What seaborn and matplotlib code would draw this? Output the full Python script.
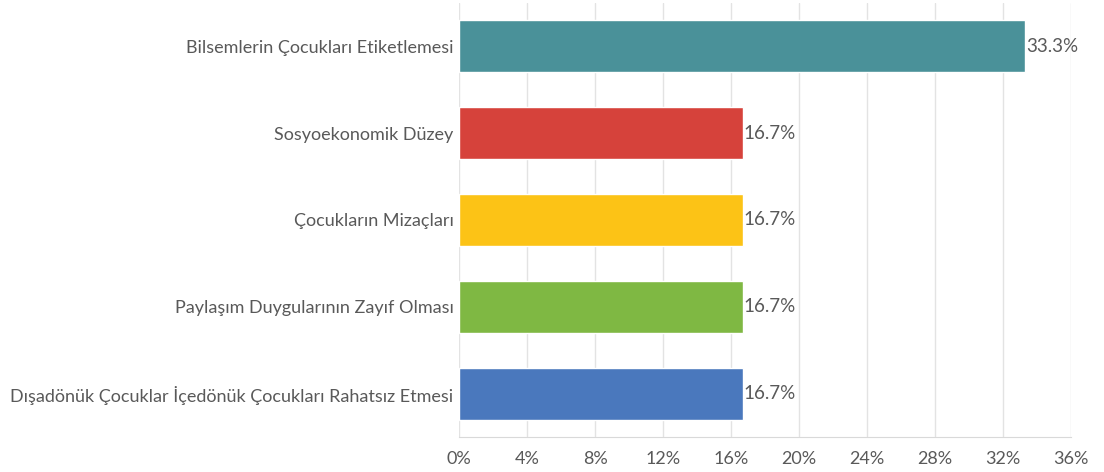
import numpy as np
import pandas as pd
import matplotlib
matplotlib.use("Agg")
import matplotlib.pyplot as plt
import seaborn as sns

categories = [
    "Bilsemlerin Çocukları Etiketlemesi",
    "Sosyoekonomik Düzey",
    "Çocukların Mizaçları",
    "Paylaşım Duygularının Zayıf Olması",
    "Dışadönük Çocuklar İçedönük Çocukları Rahatsız Etmesi",
]
percents = [33.3, 16.7, 16.7, 16.7, 16.7]
bar_colors = ["#4A9199", "#D6423B", "#FCC316", "#7FB843", "#4A78BD"]
xticks = [0, 4, 8, 12, 16, 20, 24, 28, 32, 36]

sns.set_style("white")
plt.rcParams["font.family"] = ["Lato", "DejaVu Sans"]
text_color = "#595959"

df = pd.DataFrame({"category": categories, "percent": percents})

fig = plt.figure(figsize=(11.04, 4.72), dpi=100)
ax = fig.add_axes([0.4158, 0.0742, 0.5543, 0.9194])

sns.barplot(data=df, x="percent", y="category", hue="category",
            palette=bar_colors, legend=False, width=0.6, ax=ax,
            saturation=1, zorder=3)

ax.set_xlim(0, 36)
ax.set_ylim(4.5, -0.5)
ax.set_xticks(xticks)
ax.set_xticklabels([f"{t}%" for t in xticks])
ax.grid(axis="x", color="#E3E3E3", linewidth=1, zorder=0)
ax.set_axisbelow(True)
for side in ["top", "right", "left"]:
    ax.spines[side].set_visible(False)
ax.spines["bottom"].set_color("#D9D9D9")
ax.tick_params(axis="x", colors="#D9D9D9", length=4, labelcolor=text_color,
               labelsize=13, pad=6)
ax.tick_params(axis="y", length=0, labelcolor=text_color, labelsize=13, pad=4)
ax.set_xlabel("")
ax.set_ylabel("")

for i, v in enumerate(percents):
    ax.text(v + 0.05, i, f"{v}%", va="center", ha="left",
            color=text_color, fontsize=13.5)

fig.savefig("out.png", dpi=100)
